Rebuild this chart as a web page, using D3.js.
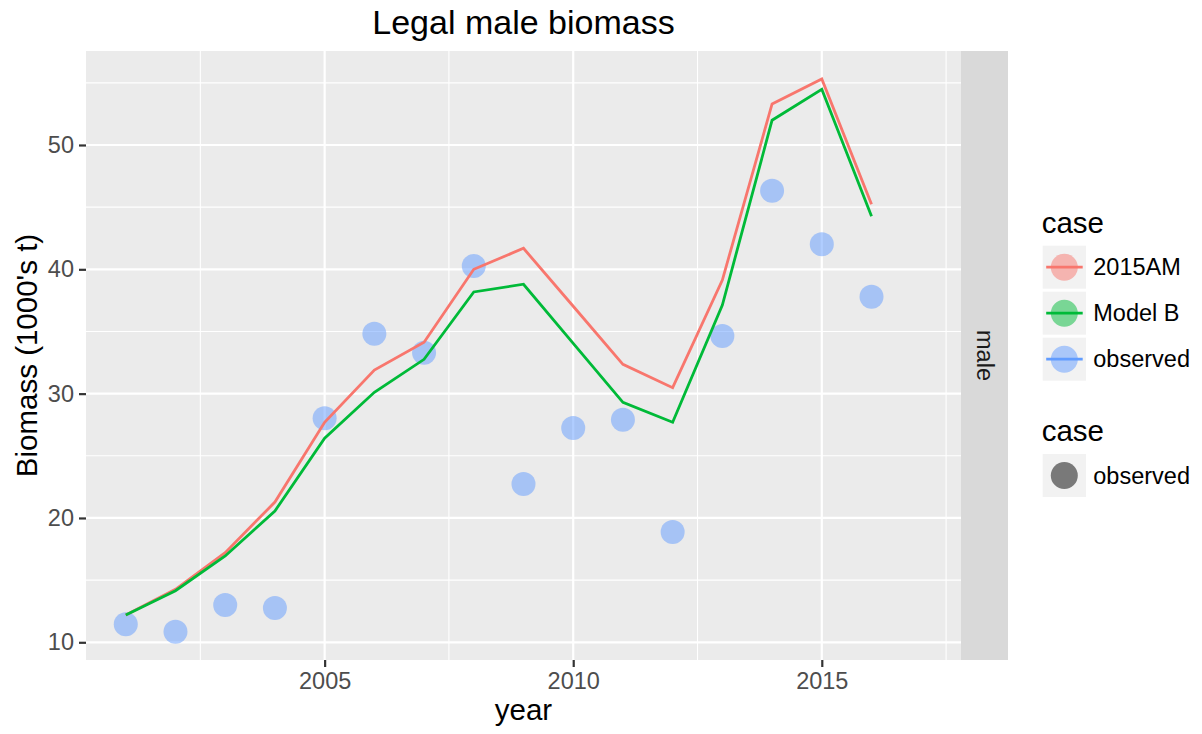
<!DOCTYPE html>
<html><head><meta charset="utf-8">
<script src="https://cdn.jsdelivr.net/npm/d3@7"></script>
<style>body{margin:0;background:#fff}svg{display:block}text{font-family:"Liberation Sans",Arial,Helvetica,sans-serif}</style>
</head><body><svg id="c" width="1202" height="734"></svg>
<script>
const years = [2001,2002,2003,2004,2005,2006,2007,2008,2009,2010,2011,2012,2013,2014,2015,2016];
const observed = [11.45,10.85,13.0,12.76,28.02,34.82,33.29,40.27,22.73,27.24,27.9,18.87,34.64,46.32,42.01,37.8];
const am2015 = [12.2,14.26,17.21,21.28,27.7,31.9,34.13,40.0,41.69,37.03,32.36,30.48,39.14,53.3,55.31,45.23];
const modelB = [12.2,14.15,16.94,20.56,26.41,30.11,32.76,38.18,38.8,34.05,29.3,27.7,37.13,51.99,54.48,44.27];
const xTicks = [2005,2010,2015];
const xMinor = [2002.5,2007.5,2012.5,2017.5];
const yTicks = [10,20,30,40,50];
const yMinor = [15,25,35,45,55];
const legendLabels = ["2015AM","Model B","observed"];
const legendColors = ["#F8766D","#00BA38","#619CFF"];

const svg = d3.select("#c");
const L=86,R=961,T=51,B=660;
const x = d3.scaleLinear().domain([2000.2,2017.8]).range([L,R]);
const y = d3.scaleLinear().domain([8.576,57.56]).range([B,T]);

svg.append("rect").attr("x",L).attr("y",T).attr("width",R-L).attr("height",B-T).attr("fill","#EBEBEB");
const g = svg.append("g");
xMinor.forEach(v=>g.append("line").attr("x1",x(v)).attr("x2",x(v)).attr("y1",T).attr("y2",B).attr("stroke","#fff").attr("stroke-width",1.1));
yMinor.forEach(v=>g.append("line").attr("y1",y(v)).attr("y2",y(v)).attr("x1",L).attr("x2",R).attr("stroke","#fff").attr("stroke-width",1.1));
xTicks.forEach(v=>g.append("line").attr("x1",x(v)).attr("x2",x(v)).attr("y1",T).attr("y2",B).attr("stroke","#fff").attr("stroke-width",2.2));
yTicks.forEach(v=>g.append("line").attr("y1",y(v)).attr("y2",y(v)).attr("x1",L).attr("x2",R).attr("stroke","#fff").attr("stroke-width",2.2));

// axes
const xa = svg.append("g").attr("transform",`translate(0,${B})`).call(d3.axisBottom(x).tickValues(xTicks).tickFormat(d3.format("d")).tickSize(7).tickPadding(5));
const ya = svg.append("g").attr("transform",`translate(${L},0)`).call(d3.axisLeft(y).tickValues(yTicks).tickSize(7).tickPadding(5));
[xa,ya].forEach(a=>{a.select(".domain").remove();a.selectAll("line").attr("stroke","#333").attr("stroke-width",2.2);a.selectAll("text").attr("fill","#4D4D4D").style("font-size","23.5px").attr("font-family",null);});

// points
svg.append("g").selectAll("circle").data(years).join("circle")
 .attr("cx",(d)=>x(d)).attr("cy",(d,i)=>y(observed[i])).attr("r",12).attr("fill","#619CFF").attr("fill-opacity",0.5);
// lines
const line = d3.line().x((d,i)=>x(years[i])).y(d=>y(d));
svg.append("path").datum(am2015).attr("d",line).attr("fill","none").attr("stroke","#F8766D").attr("stroke-width",2.8);
svg.append("path").datum(modelB).attr("d",line).attr("fill","none").attr("stroke","#00BA38").attr("stroke-width",2.8);

// strip
svg.append("rect").attr("x",R).attr("y",T).attr("width",47).attr("height",B-T).attr("fill","#D9D9D9");
svg.append("text").attr("transform",`translate(${R+23.5},${(T+B)/2}) rotate(90)`).attr("text-anchor","middle").attr("dominant-baseline","central").attr("fill","#1A1A1A").style("font-size","23.5px").text("male");

// titles
svg.append("text").attr("x",(L+R)/2).attr("y",34).attr("text-anchor","middle").style("font-size","34px").attr("fill","#000").text("Legal male biomass");
svg.append("text").attr("x",(L+R)/2).attr("y",720).attr("text-anchor","middle").style("font-size","29.5px").attr("fill","#000").text("year");
svg.append("text").attr("transform",`translate(37,${(T+B)/2}) rotate(-90)`).attr("text-anchor","middle").style("font-size","29.5px").attr("fill","#000").text("Biomass (1000's t)");

// legend 1
const lx=1042.7;
svg.append("text").attr("x",1041.7).attr("y",233).style("font-size","29.5px").text("case");
legendLabels.forEach((lab,i)=>{
  const ty=245.7+i*46;
  const k=svg.append("g");
  k.append("rect").attr("x",lx).attr("y",ty).attr("width",43.3).attr("height",43).attr("fill","#F2F2F2");
  k.append("circle").attr("cx",lx+21.6).attr("cy",ty+21.5).attr("r",13.5).attr("fill",legendColors[i]).attr("fill-opacity",0.5);
  k.append("line").attr("x1",lx+3.5).attr("x2",lx+40).attr("y1",ty+21.5).attr("y2",ty+21.5).attr("stroke",legendColors[i]).attr("stroke-width",2.8);
  k.append("text").attr("x",1093.3).attr("y",ty+21.5).attr("dominant-baseline","central").style("font-size","23.5px").text(lab);
});
// legend 2
svg.append("text").attr("x",1041.7).attr("y",440.7).style("font-size","29.5px").text("case");
{
  const ty=454;
  svg.append("rect").attr("x",lx).attr("y",ty).attr("width",43.3).attr("height",43).attr("fill","#F2F2F2");
  svg.append("circle").attr("cx",lx+21.6).attr("cy",ty+21.5).attr("r",13.5).attr("fill","#000").attr("fill-opacity",0.5);
  svg.append("text").attr("x",1093.3).attr("y",ty+21.5).attr("dominant-baseline","central").style("font-size","23.5px").text("observed");
}
</script></body></html>
